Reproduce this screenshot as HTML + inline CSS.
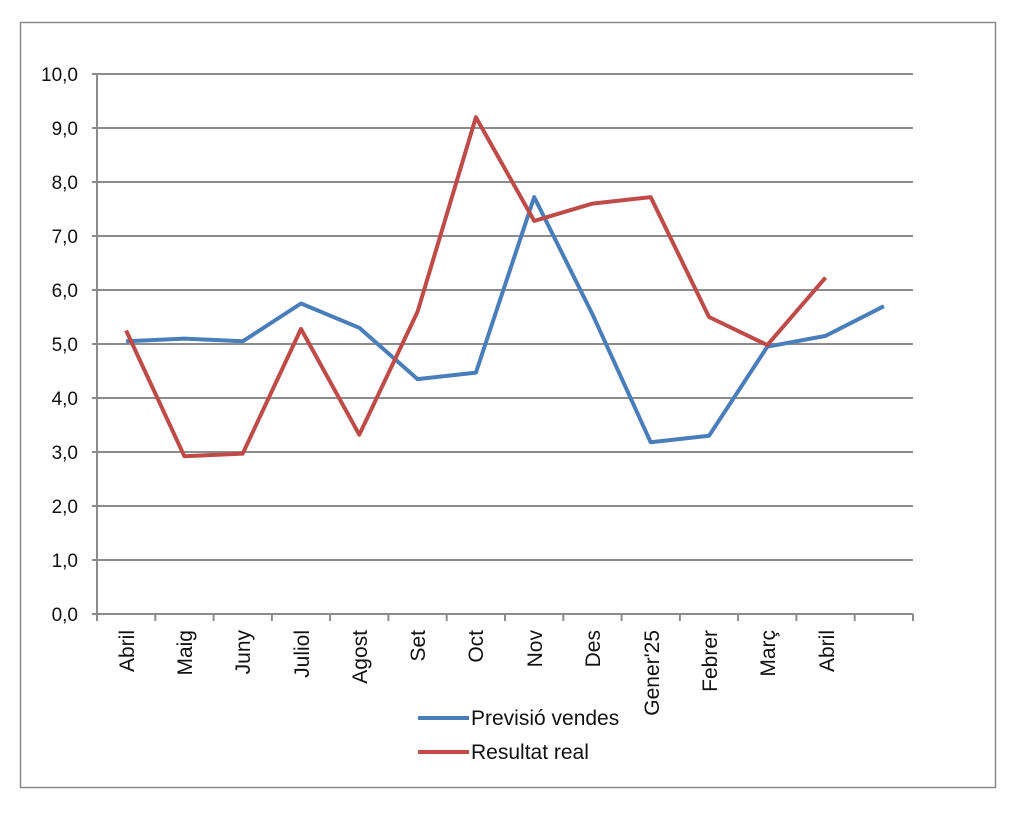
<!DOCTYPE html>
<html><head><style>body{margin:0;background:#fff}svg{display:block}</style></head>
<body>
<svg width="1018" height="830" xmlns="http://www.w3.org/2000/svg" font-family="Liberation Sans, sans-serif">
<rect x="0" y="0" width="1018" height="830" fill="#fff"/>
<rect x="20.5" y="22.5" width="975" height="765" fill="none" stroke="#8a8a8a" stroke-width="1.5"/>
<g stroke="#8c8c8c" stroke-width="2">
<line x1="92" y1="74" x2="913" y2="74"/>
<line x1="92" y1="128" x2="913" y2="128"/>
<line x1="92" y1="182" x2="913" y2="182"/>
<line x1="92" y1="236" x2="913" y2="236"/>
<line x1="92" y1="290" x2="913" y2="290"/>
<line x1="92" y1="344" x2="913" y2="344"/>
<line x1="92" y1="398" x2="913" y2="398"/>
<line x1="92" y1="452" x2="913" y2="452"/>
<line x1="92" y1="506" x2="913" y2="506"/>
<line x1="92" y1="560" x2="913" y2="560"/>
<line x1="92" y1="614" x2="913" y2="614"/>
<line x1="97" y1="74" x2="97" y2="621"/>
<line x1="155.3" y1="614" x2="155.3" y2="621"/><line x1="213.6" y1="614" x2="213.6" y2="621"/>
<line x1="271.9" y1="614" x2="271.9" y2="621"/><line x1="330.1" y1="614" x2="330.1" y2="621"/>
<line x1="388.4" y1="614" x2="388.4" y2="621"/><line x1="446.7" y1="614" x2="446.7" y2="621"/>
<line x1="505" y1="614" x2="505" y2="621"/><line x1="563.3" y1="614" x2="563.3" y2="621"/>
<line x1="621.6" y1="614" x2="621.6" y2="621"/><line x1="679.9" y1="614" x2="679.9" y2="621"/>
<line x1="738.1" y1="614" x2="738.1" y2="621"/><line x1="796.4" y1="614" x2="796.4" y2="621"/>
<line x1="854.7" y1="614" x2="854.7" y2="621"/><line x1="913" y1="614" x2="913" y2="621"/>
</g>
<g font-size="19" fill="#111" text-anchor="end">
<text x="78" y="81">10,0</text><text x="78" y="135">9,0</text><text x="78" y="189">8,0</text>
<text x="78" y="243">7,0</text><text x="78" y="297">6,0</text><text x="78" y="351">5,0</text>
<text x="78" y="405">4,0</text><text x="78" y="459">3,0</text><text x="78" y="513">2,0</text>
<text x="78" y="567">1,0</text><text x="78" y="621">0,0</text>
</g>
<g font-size="21" fill="#111" text-anchor="end">
<text transform="translate(134,630) rotate(-90)">Abril</text>
<text transform="translate(192,630) rotate(-90)">Maig</text>
<text transform="translate(250,630) rotate(-90)">Juny</text>
<text transform="translate(309,630) rotate(-90)">Juliol</text>
<text transform="translate(367,630) rotate(-90)">Agost</text>
<text transform="translate(425,630) rotate(-90)">Set</text>
<text transform="translate(483,630) rotate(-90)">Oct</text>
<text transform="translate(542,630) rotate(-90)">Nov</text>
<text transform="translate(600,630) rotate(-90)">Des</text>
<text transform="translate(659,630) rotate(-90)">Gener'25</text>
<text transform="translate(717,630) rotate(-90)">Febrer</text>
<text transform="translate(775,630) rotate(-90)">Març</text>
<text transform="translate(834,630) rotate(-90)">Abril</text>
</g>
<polyline fill="none" stroke="#4a7ebb" stroke-width="4" stroke-linejoin="round" points="126.1,341.3 184.4,338.6 242.7,341.3 301,303.5 359.3,327.8 417.6,379.1 475.9,372.6 534.2,197.1 592.5,314.3 650.7,442.3 709,435.8 767.3,346.7 825.6,335.9 883.9,306.2"/>
<polyline fill="none" stroke="#be4b48" stroke-width="4" stroke-linejoin="round" points="126.1,330.5 184.4,456.3 242.7,453.6 301,328.9 359.3,434.7 417.6,311.6 475.9,117.2 534.2,220.9 592.5,203.6 650.7,197.1 709,317 767.3,345.1 825.6,277.6"/>
<line x1="418" y1="718" x2="469" y2="718" stroke="#4a7ebb" stroke-width="4"/>
<text x="471" y="725" font-size="21" fill="#111">Previsió vendes</text>
<line x1="418" y1="752" x2="469" y2="752" stroke="#be4b48" stroke-width="4"/>
<text x="471" y="759" font-size="21" fill="#111">Resultat real</text>
</svg>
</body></html>
